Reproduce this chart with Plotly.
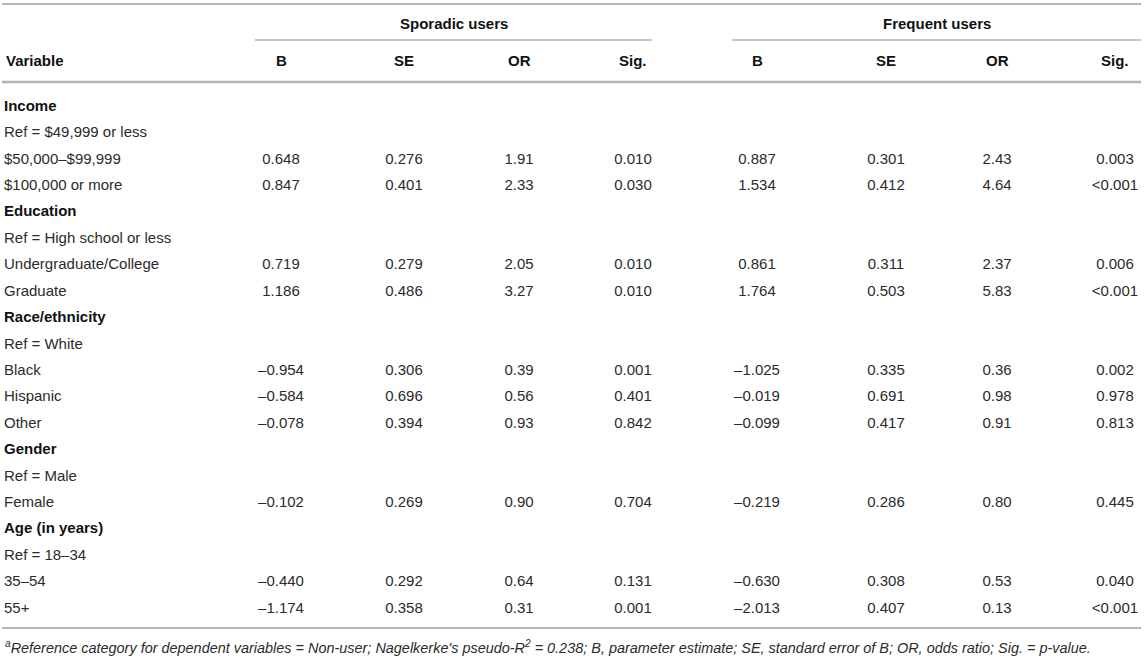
"""
Logistic regression table (Sporadic vs Frequent users) drawn as a Plotly figure.
"""

import plotly.graph_objects as go

# ------------------------------------------------------------------
# data
# ------------------------------------------------------------------

row_labels = [
    "Income", "Ref = $49,999 or less", "$50,000–$99,999", "$100,000 or more",
    "Education", "Ref = High school or less", "Undergraduate/College", "Graduate",
    "Race/ethnicity", "Ref = White", "Black", "Hispanic", "Other",
    "Gender", "Ref = Male", "Female",
    "Age (in years)", "Ref = 18–34", "35–54", "55+",
]
group_rows = ["Income", "Education", "Race/ethnicity", "Gender", "Age (in years)"]

groups = ["Sporadic users", "Frequent users"]
stat_headers = ["B", "SE", "OR", "Sig."]

spor_b   = [None, None, 0.648, 0.847, None, None, 0.719, 1.186, None, None, -0.954, -0.584, -0.078, None, None, -0.102, None, None, -0.440, -1.174]
spor_se  = [None, None, 0.276, 0.401, None, None, 0.279, 0.486, None, None, 0.306, 0.696, 0.394, None, None, 0.269, None, None, 0.292, 0.358]
spor_or  = [None, None, 1.91, 2.33, None, None, 2.05, 3.27, None, None, 0.39, 0.56, 0.93, None, None, 0.90, None, None, 0.64, 0.31]
spor_sig = ["", "", "0.010", "0.030", "", "", "0.010", "0.010", "", "", "0.001", "0.401", "0.842", "", "", "0.704", "", "", "0.131", "0.001"]

freq_b   = [None, None, 0.887, 1.534, None, None, 0.861, 1.764, None, None, -1.025, -0.019, -0.099, None, None, -0.219, None, None, -0.630, -2.013]
freq_se  = [None, None, 0.301, 0.412, None, None, 0.311, 0.503, None, None, 0.335, 0.691, 0.417, None, None, 0.286, None, None, 0.308, 0.407]
freq_or  = [None, None, 2.43, 4.64, None, None, 2.37, 5.83, None, None, 0.36, 0.98, 0.91, None, None, 0.80, None, None, 0.53, 0.13]
freq_sig = ["", "", "0.003", "<0.001", "", "", "0.006", "<0.001", "", "", "0.002", "0.978", "0.813", "", "", "0.445", "", "", "0.040", "<0.001"]

footnote = ("<sup>a</sup>Reference category for dependent variables = Non-user; "
            "Nagelkerke's pseudo-R<sup>2</sup> = 0.238; B, parameter estimate; "
            "SE, standard error of B; OR, odds ratio; Sig. = p-value.")

# ------------------------------------------------------------------
# layout constants (axis units = page pixels)
# ------------------------------------------------------------------

W, H = 1145, 658
FONT = "Liberation Sans, Arial, Helvetica, sans-serif"
TXT = "#2b2b2b"
HDR = "#111111"
RULE = "#b4b4b4"

row_y0, row_dy = 107, 26.42
row_y = [row_y0 + i * row_dy for i in range(len(row_labels))]

col_x = {
    "Sporadic users": [281, 404, 519, 633],
    "Frequent users": [757, 886, 997, 1115],
}
group_span = {"Sporadic users": (255, 652), "Frequent users": (732, 1141)}


def fmt(v, nd):
    if v is None:
        return ""
    return f"{v:.{nd}f}".replace("-", "–")


fig = go.Figure()

# variable labels
fig.add_trace(go.Scatter(
    x=[4] * len(row_labels), y=row_y, mode="text",
    text=[f"<b>{r}</b>" if r in group_rows else r for r in row_labels],
    textposition="middle right", cliponaxis=False,
    textfont=dict(family=FONT, size=15, color=[HDR if r in group_rows else TXT for r in row_labels]),
    hoverinfo="skip", showlegend=False,
))

columns = {
    "Sporadic users": [[fmt(v, 3) for v in spor_b], [fmt(v, 3) for v in spor_se],
                       [fmt(v, 2) for v in spor_or], spor_sig],
    "Frequent users": [[fmt(v, 3) for v in freq_b], [fmt(v, 3) for v in freq_se],
                       [fmt(v, 2) for v in freq_or], freq_sig],
}
for g in groups:
    for cx, vals in zip(col_x[g], columns[g]):
        ys = [y for y, v in zip(row_y, vals) if v]
        ts = [v for v in vals if v]
        fig.add_trace(go.Scatter(
            x=[cx] * len(ts), y=ys, mode="text", text=ts,
            textposition="middle center", cliponaxis=False,
            textfont=dict(family=FONT, size=15, color=TXT),
            hoverinfo="skip", showlegend=False,
        ))

# headers
annos = [dict(x=4, y=60, text="<b>Variable</b>", xanchor="left")]
for g in groups:
    x0, x1 = group_span[g]
    annos.append(dict(x=(x0 + x1) / 2, y=23, text=f"<b>{g}</b>", xanchor="center"))
    for cx, h in zip(col_x[g], stat_headers):
        annos.append(dict(x=cx, y=60, text=f"<b>{h}</b>", xanchor="center"))
for a in annos:
    a.update(xref="x", yref="y", yanchor="middle", showarrow=False,
             font=dict(family=FONT, size=15, color=HDR))
annos.append(dict(
    x=3, y=647, xref="x", yref="y", xanchor="left", yanchor="middle", showarrow=False,
    text=f"<i>{footnote}</i>", font=dict(family=FONT, size=14.45, color=TXT),
))

# rules
shapes = [
    dict(type="line", x0=2, x1=1141, y0=4, y1=4, line=dict(color=RULE, width=2)),
    dict(type="line", x0=2, x1=1141, y0=82, y1=82, line=dict(color=RULE, width=2.5)),
    dict(type="line", x0=2, x1=1141, y0=628, y1=628, line=dict(color=RULE, width=2)),
]
for g in groups:
    x0, x1 = group_span[g]
    shapes.append(dict(type="line", x0=x0, x1=x1, y0=40, y1=40, line=dict(color=RULE, width=1.3)))
for s in shapes:
    s.update(xref="x", yref="y")

fig.update_layout(
    width=W, height=H,
    margin=dict(l=0, r=0, t=0, b=0),
    paper_bgcolor="white", plot_bgcolor="white",
    xaxis=dict(range=[0, W], visible=False, fixedrange=True),
    yaxis=dict(range=[H, 0], visible=False, fixedrange=True),
    annotations=annos, shapes=shapes,
)

# the page's default 8px body margin would push the figure off the window
fig.write_html("out.html", config={"displayModeBar": False},
               post_script="document.body.style.margin = '0';")
